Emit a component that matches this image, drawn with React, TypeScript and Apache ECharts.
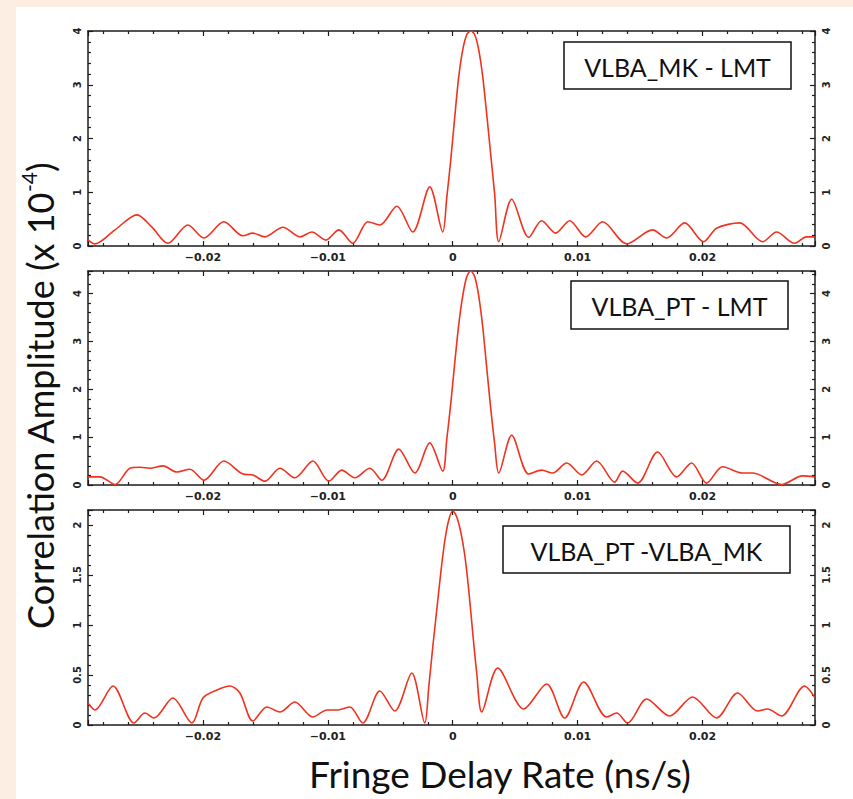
import React, { useEffect, useRef } from "react";
import * as echarts from "echarts";

// ---- Data (fringe rate in ns/s, amplitude in units of 1e-4) ----
const rateMkLmt = [
  -0.0292, -0.02864, -0.02704, -0.02528, -0.02408, -0.0228, -0.0212, -0.01992, -0.01832, -0.0168,
  -0.016, -0.01504, -0.0136, -0.01224, -0.01128, -0.01016, -0.00912, -0.008, -0.0068, -0.00584,
  -0.00448, -0.0032, -0.00184, -0.0008,
  -0.00048, -0.00016, 0.00016, 0.00048, 0.0008, 0.00112, 0.00144, 0.00176, 0.00208, 0.0024,
  0.00272, 0.00304, 0.00336, 0.00368,
  0.00472, 0.00608, 0.00712, 0.00824, 0.00936, 0.01064, 0.012, 0.01392, 0.016, 0.01712,
  0.01856, 0.02008, 0.02112, 0.02296, 0.0248, 0.02592, 0.02736, 0.02832, 0.02896,
];
const ampMkLmt = [
  0.11, 0.04, 0.3, 0.58, 0.35, 0.05, 0.39, 0.15, 0.45, 0.19,
  0.24, 0.17, 0.35, 0.17, 0.26, 0.11, 0.3, 0.05, 0.45, 0.39,
  0.74, 0.26, 1.1, 0.26,
  0.9, 1.6, 2.4, 3.15, 3.65, 3.93, 4.0, 3.93, 3.65, 3.15,
  2.45, 1.7, 0.95, 0.08,
  0.87, 0.16, 0.47, 0.24, 0.47, 0.17, 0.45, 0.04, 0.3, 0.15,
  0.43, 0.08, 0.33, 0.43, 0.08, 0.26, 0.05, 0.17, 0.17,
];

const ratePtLmt = [
  -0.0292, -0.02824, -0.02704, -0.02584, -0.02504, -0.02424, -0.0232, -0.02208, -0.02104, -0.01992,
  -0.01832, -0.0168, -0.016, -0.01504, -0.01384, -0.01264, -0.0112, -0.00992, -0.00888, -0.00784,
  -0.00664, -0.00568, -0.00432, -0.00304, -0.00184, -0.0008,
  -0.00048, -0.00016, 0.00016, 0.00048, 0.0008, 0.00112, 0.00144, 0.00176, 0.00208, 0.0024,
  0.00272, 0.00304, 0.00336, 0.00368,
  0.00472, 0.00608, 0.00712, 0.008, 0.00912, 0.01032, 0.01152, 0.01296, 0.0136, 0.0148,
  0.0164, 0.01792, 0.01912, 0.02032, 0.0216, 0.0232, 0.024, 0.02632, 0.028, 0.02896,
];
const ampPtLmt = [
  0.17, 0.17, 0.01, 0.35, 0.37, 0.35, 0.4, 0.27, 0.33, 0.1,
  0.5, 0.23, 0.21, 0.08, 0.35, 0.15, 0.5, 0.08, 0.31, 0.15,
  0.35, 0.1, 0.75, 0.25, 0.88, 0.29,
  0.95, 1.7, 2.55, 3.35, 3.95, 4.35, 4.47, 4.35, 3.95, 3.3,
  2.45, 1.6, 0.85, 0.25,
  1.04, 0.23, 0.31, 0.25, 0.46, 0.21, 0.5, 0.06, 0.29, 0.04,
  0.69, 0.17, 0.46, 0.04, 0.38, 0.25, 0.25, 0.01, 0.19, 0.17,
];

const ratePtMk = [
  -0.0292, -0.02864, -0.0272, -0.02552, -0.02464, -0.02392, -0.0224, -0.02088, -0.02, -0.01888,
  -0.01784, -0.01704, -0.016, -0.01488, -0.01384, -0.01264, -0.0112, -0.01008, -0.0092, -0.00824,
  -0.0072, -0.00584, -0.00464, -0.00328, -0.00224,
  -0.00192, -0.0016, -0.00128, -0.00096, -0.00064, -0.00032, 0, 0.00032, 0.00064, 0.00096,
  0.00128, 0.0016, 0.00192, 0.00232,
  0.0036, 0.00568, 0.00752, 0.00896, 0.01048, 0.01232, 0.01312, 0.014, 0.01552, 0.01736,
  0.0192, 0.02112, 0.0228, 0.0244, 0.0252, 0.02632, 0.02816, 0.02896,
];
const ampPtMk = [
  0.22, 0.15, 0.39, 0.02, 0.12, 0.07, 0.27, 0.02, 0.27, 0.35,
  0.39, 0.32, 0.04, 0.18, 0.13, 0.23, 0.08, 0.15, 0.15, 0.18,
  0.02, 0.34, 0.14, 0.52, 0.02,
  0.38, 0.78, 1.15, 1.52, 1.84, 2.05, 2.14, 2.08, 1.93, 1.7,
  1.35, 0.92, 0.52, 0.13,
  0.57, 0.16, 0.41, 0.07, 0.43, 0.08, 0.12, 0.02, 0.26, 0.09,
  0.28, 0.07, 0.32, 0.14, 0.16, 0.09, 0.39, 0.28,
];

const baselineNames = ["VLBA_MK - LMT", "VLBA_PT - LMT", "VLBA_PT -VLBA_MK"];
const yMaxes = [4, 4.47, 2.15];
const yIntervals = [1, 1, 0.5];
const xMin = -0.0292;
const xMax = 0.029;

const xTitle = "Fringe Delay Rate (ns/s)";
const yTitleMain = "Correlation Amplitude (x 10";
const yTitleExp = "-4";

// ---- Layout ----
const grids = [
  { left: 88, top: 31, width: 727, height: 215 },
  { left: 88, top: 271, width: 727, height: 214 },
  { left: 88, top: 510, width: 727, height: 215 },
];
const boxes = [
  { x: 564, y: 42, w: 227, h: 47 },
  { x: 571, y: 281, w: 217, h: 48 },
  { x: 503, y: 526, w: 287, h: 47 },
];

const AX = "#1c1c1c";
const RED = "#f0321e";

function fmtX(v: number) {
  if (Math.abs(v) < 1e-9) return "0";
  return (v < 0 ? "\u2212" : "") + Math.abs(v).toFixed(2);
}

export default function App() {
  const ref = useRef<HTMLDivElement>(null);
  useEffect(() => {
    document.body.style.margin = "0";
    const chart = echarts.init(ref.current!, null, { renderer: "svg" });

    const lineStyle = { color: AX, width: 1.5 };
    const tickStyle = { color: AX, width: 1.2 };
    const labelBase = {
      fontFamily: "DejaVu Sans",
      fontWeight: "bold" as const,
      color: "#222",
    };

    const xAxis: any[] = [];
    const yAxis: any[] = [];
    grids.forEach((_, g) => {
      ["bottom", "top"].forEach((pos) => {
        xAxis.push({
          type: "value",
          gridIndex: g,
          position: pos,
          min: xMin,
          max: xMax,
          splitNumber: 6,
          axisLine: { show: true, onZero: false, lineStyle },
          axisTick: { show: true, inside: true, length: 5, lineStyle: tickStyle },
          minorTick: { show: true, splitNumber: 5, length: 3, lineStyle: tickStyle },
          splitLine: { show: false },
          axisLabel: {
            show: pos === "bottom",
            showMinLabel: false,
            showMaxLabel: false,
            formatter: fmtX,
            fontSize: 11,
            margin: 6,
            ...labelBase,
          },
        });
      });
      ["left", "right"].forEach((pos) => {
        yAxis.push({
          type: "value",
          gridIndex: g,
          position: pos,
          min: 0,
          max: yMaxes[g],
          interval: yIntervals[g],
          axisLine: { show: true, onZero: false, lineStyle },
          axisTick: { show: true, inside: true, length: 5, lineStyle: tickStyle },
          minorTick: { show: true, splitNumber: 5, length: 3, lineStyle: tickStyle },
          splitLine: { show: false },
          axisLabel: {
            show: true,
            rotate: 90,
            showMaxLabel: yMaxes[g] % yIntervals[g] === 0,
            fontSize: 10,
            margin: 6,
            ...labelBase,
          },
        });
      });
    });

    const seriesData = [
      rateMkLmt.map((x, i) => [x, ampMkLmt[i]]),
      ratePtLmt.map((x, i) => [x, ampPtLmt[i]]),
      ratePtMk.map((x, i) => [x, ampPtMk[i]]),
    ];

    const series = seriesData.map((data, g) => ({
      type: "line",
      xAxisIndex: g * 2,
      yAxisIndex: g * 2,
      data,
      showSymbol: false,
      smooth: 0.3,
      lineStyle: { color: RED, width: 1.6 },
      z: 3,
    }));

    const graphic: any[] = [
      {
        type: "rect",
        z: -100,
        silent: true,
        shape: { x: 16, y: 7, width: 837, height: 792 },
        style: { fill: "#ffffff" },
      },
    ];
    boxes.forEach((b, i) => {
      graphic.push({
        type: "rect",
        z: 50,
        shape: { x: b.x, y: b.y, width: b.w, height: b.h },
        style: { fill: "#ffffff", stroke: "#111", lineWidth: 1.5 },
      });
      graphic.push({
        type: "text",
        z: 51,
        x: b.x + b.w / 2,
        y: b.y + b.h / 2 + 1,
        style: {
          text: baselineNames[i],
          fontFamily: "Lato",
          fontSize: 25,
          fill: "#111",
          align: "center",
          verticalAlign: "middle",
        },
      });
    });
    graphic.push({
      type: "text",
      z: 51,
      x: 500,
      y: 773,
      style: {
        text: xTitle,
        fontFamily: "Lato",
        fontSize: 37,
        fill: "#111",
        align: "center",
        verticalAlign: "middle",
      },
    });
    graphic.push({
      type: "text",
      z: 51,
      x: 40,
      y: 396,
      rotation: Math.PI / 2,
      style: {
        text: "{a|" + yTitleMain + "}{b|" + yTitleExp + "}{a|)}",
        align: "center",
        verticalAlign: "middle",
        rich: {
          a: { fontFamily: "Lato", fontSize: 36, fill: "#111", lineHeight: 44 },
          b: { fontFamily: "Lato", fontSize: 21, fill: "#111", verticalAlign: "top", lineHeight: 30 },
        },
      },
    });

    chart.setOption({
      animation: false,
      backgroundColor: "#fdeee3",
      grid: grids.map((g) => ({ ...g, containLabel: false })),
      xAxis,
      yAxis,
      series,
      graphic,
    });
    return () => chart.dispose();
  }, []);
  return <div ref={ref} style={{ width: 853, height: 799 }} />;
}
